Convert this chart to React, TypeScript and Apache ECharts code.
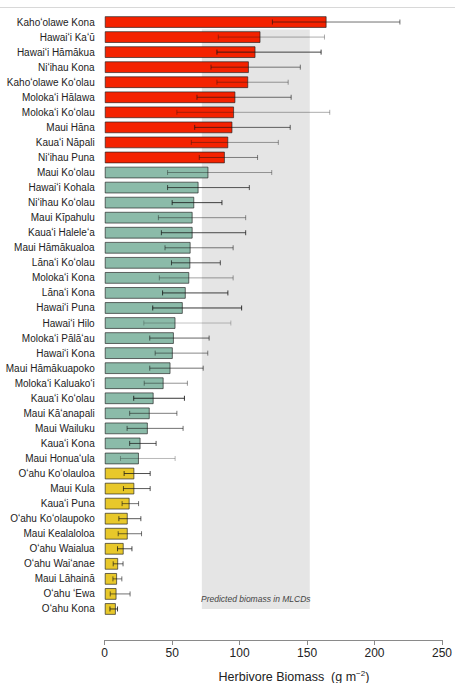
import React, { useEffect, useRef } from "react";
import * as echarts from "echarts";

const regions = [
  "Kahoʻolawe Kona", "Hawaiʻi Kaʻū", "Hawaiʻi Hāmākua", "Niʻihau Kona", "Kahoʻolawe Koʻolau",
  "Molokaʻi Hālawa", "Molokaʻi Koʻolau", "Maui Hāna", "Kauaʻi Nāpali", "Niʻihau Puna",
  "Maui Koʻolau", "Hawaiʻi Kohala", "Niʻihau Koʻolau", "Maui Kīpahulu", "Kauaʻi Haleleʻa",
  "Maui Hāmākualoa", "Lānaʻi Koʻolau", "Molokaʻi Kona", "Lānaʻi Kona", "Hawaiʻi Puna",
  "Hawaiʻi Hilo", "Molokaʻi Pālāʻau", "Hawaiʻi Kona", "Maui Hāmākuapoko", "Molokaʻi Kaluakoʻi",
  "Kauaʻi Koʻolau", "Maui Kāʻanapali", "Maui Wailuku", "Kauaʻi Kona", "Maui Honuaʻula",
  "Oʻahu Koʻolauloa", "Maui Kula", "Kauaʻi Puna", "Oʻahu Koʻolaupoko", "Maui Kealaloloa",
  "Oʻahu Waialua", "Oʻahu Waiʻanae", "Maui Lāhainā", "Oʻahu ʻEwa", "Oʻahu Kona",
];

const biomass = [
  164.5, 115.5, 111.8, 106.9, 106.4, 96.9, 95.9, 94.7, 91.6, 89.1,
  76.9, 69.6, 66.4, 65.2, 65.2, 63.7, 63.5, 62.7, 60.1, 57.9,
  52.5, 51.3, 50.5, 48.8, 43.7, 36.3, 33.4, 32.0, 26.6, 25.4,
  22.0, 22.0, 18.5, 17.1, 17.1, 14.1, 10.0, 9.2, 8.8, 8.3,
];

const errLow = [
  124.3, 84.2, 83.2, 78.8, 83.2, 68.4, 53.5, 66.7, 64.2, 70.1,
  46.6, 46.6, 50.0, 39.8, 42.0, 44.7, 49.5, 40.5, 42.9, 35.6,
  29.0, 33.4, 37.4, 33.4, 29.3, 21.5, 18.5, 16.6, 18.5, 11.7,
  14.4, 13.9, 12.9, 10.5, 10.0, 9.5, 6.3, 6.1, 4.1, 3.9,
];

const errHigh = [
  218.8, 162.9, 160.4, 145.0, 136.0, 138.2, 166.8, 137.5, 128.7, 113.3,
  123.8, 107.2, 86.9, 104.5, 104.5, 95.2, 85.7, 95.2, 91.3, 101.5,
  93.5, 77.4, 76.4, 73.0, 61.3, 59.1, 53.5, 58.1, 38.1, 52.2,
  33.7, 33.7, 25.1, 26.8, 27.3, 20.2, 13.6, 12.7, 18.8, 9.5,
];

// relative certainty of each estimate (drawn as error-bar darkness)
const errWeight = [
  0.6, 0.35, 0.8, 0.55, 0.4, 0.6, 0.35, 0.65, 0.4, 0.5,
  0.4, 0.7, 0.8, 0.45, 0.75, 0.55, 0.7, 0.4, 0.8, 0.85,
  0.25, 0.65, 0.5, 0.6, 0.45, 0.85, 0.55, 0.6, 0.7, 0.3,
  0.75, 0.7, 0.6, 0.7, 0.6, 0.75, 0.65, 0.6, 0.6, 0.8,
];

const groups = [
  ...Array(10).fill("high"),
  ...Array(20).fill("mid"),
  ...Array(10).fill("low"),
];

const xTicks = [0, 50, 100, 150, 200, 250];
const mlcdRange = [72, 152];
// shaded band spans from between rows 1 and 2 down to the centre of the last row
const mlcdRows = [0.5, 39];
const mlcdLabel = "Predicted biomass in MLCDs";

const groupColor: Record<string, string> = {
  high: "#f42200",
  mid: "#8bbba9",
  low: "#e8c82a",
};

export default function App() {
  const ref = useRef<HTMLDivElement>(null);

  useEffect(() => {
    if (!ref.current) return;
    const chart = echarts.init(ref.current, null, { renderer: "svg" });
    const font = "Liberation Sans, Arial, Helvetica, sans-serif";

    chart.setOption({
      animation: false,
      backgroundColor: "#ffffff",
      textStyle: { fontFamily: font },
      grid: { left: 104.7, right: 9, top: 14.5, height: 602 },
      xAxis: {
        type: "value",
        min: xTicks[0],
        max: xTicks[xTicks.length - 1],
        interval: 50,
        offset: 23.5,
        axisLine: { show: true, onZero: false, lineStyle: { color: "#8a8a8a", width: 1 } },
        axisTick: { show: true, length: 5, lineStyle: { color: "#8a8a8a" } },
        axisLabel: { color: "#222", fontSize: 12, margin: 7, fontFamily: font },
        splitLine: { show: false },
      },
      yAxis: {
        type: "category",
        data: regions,
        inverse: true,
        axisLine: { show: false },
        axisTick: { show: false },
        axisLabel: { color: "#222", fontSize: 10, margin: 10, fontFamily: font },
        splitLine: { show: false },
      },
      graphic: [
        {
          type: "line",
          shape: { x1: 0, y1: 7.5, x2: 455, y2: 7.5 },
          style: { stroke: "#d8d8d8", lineWidth: 1 },
        },
        {
          type: "text",
          x: 294,
          y: 677,
          style: {
            text: "{a|Herbivore Biomass}{b|  (g m}{c|−2}{b|)}",
            align: "center",
            verticalAlign: "middle",
            rich: {
              a: { fontSize: 12.5, fill: "#222", fontFamily: font },
              b: { fontSize: 12.5, fill: "#222", fontFamily: font },
              c: { fontSize: 8, fill: "#222", fontFamily: font, verticalAlign: "top", padding: [0, 0, 8, 0] },
            },
          },
        },
      ],
      series: [
        {
          type: "custom",
          z: 0,
          silent: true,
          data: [[mlcdRange[0], mlcdRange[1], mlcdRows[0], mlcdRows[1]]],
          encode: { x: [0, 1] },
          renderItem: (params: any, api: any) => {
            const band = api.size([0, 1])[1];
            const r0 = api.value(2);
            const r1 = api.value(3);
            const a = api.coord([api.value(0), Math.floor(r0)]);
            const b = api.coord([api.value(1), Math.floor(r1)]);
            const top = a[1] + (r0 - Math.floor(r0)) * band;
            const bottom = b[1] + (r1 - Math.floor(r1)) * band;
            return {
              type: "group",
              children: [
                {
                  type: "rect",
                  shape: { x: a[0], y: top, width: b[0] - a[0], height: bottom - top },
                  style: { fill: "#e5e5e5" },
                },
                {
                  type: "text",
                  x: (a[0] + b[0]) / 2,
                  y: bottom - 10,
                  style: {
                    text: mlcdLabel,
                    align: "center",
                    verticalAlign: "middle",
                    fontSize: 8.5,
                    fontStyle: "italic",
                    fill: "#444",
                    fontFamily: font,
                  },
                },
              ],
            };
          },
        },
        {
          type: "bar",
          z: 2,
          barWidth: 11.8,
          data: biomass.map((v, i) => ({
            value: v,
            itemStyle: {
              color: groupColor[groups[i]],
              borderColor: "rgba(30,30,30,0.65)",
              borderWidth: 1,
            },
          })),
        },
        {
          type: "custom",
          z: 3,
          silent: true,
          data: regions.map((r, i) => [errLow[i], errHigh[i], i]),
          encode: { x: [0, 1], y: 2 },
          renderItem: (params: any, api: any) => {
            const lo = api.coord([api.value(0), api.value(2)]);
            const hi = api.coord([api.value(1), api.value(2)]);
            const y = lo[1];
            const a = errWeight[params.dataIndex];
            const stroke = `rgba(20,20,20,${a})`;
            const st = { stroke, lineWidth: 1 };
            return {
              type: "group",
              children: [
                { type: "line", shape: { x1: lo[0], y1: y, x2: hi[0], y2: y }, style: st },
                { type: "line", shape: { x1: lo[0], y1: y - 2.5, x2: lo[0], y2: y + 2.5 }, style: st },
                { type: "line", shape: { x1: hi[0], y1: y - 2.5, x2: hi[0], y2: y + 2.5 }, style: st },
              ],
            };
          },
        },
      ],
    });

    return () => chart.dispose();
  }, []);

  return (
    <div
      ref={ref}
      style={{ position: "fixed", left: 0, top: 0, width: 455, height: 683 }}
    />
  );
}
